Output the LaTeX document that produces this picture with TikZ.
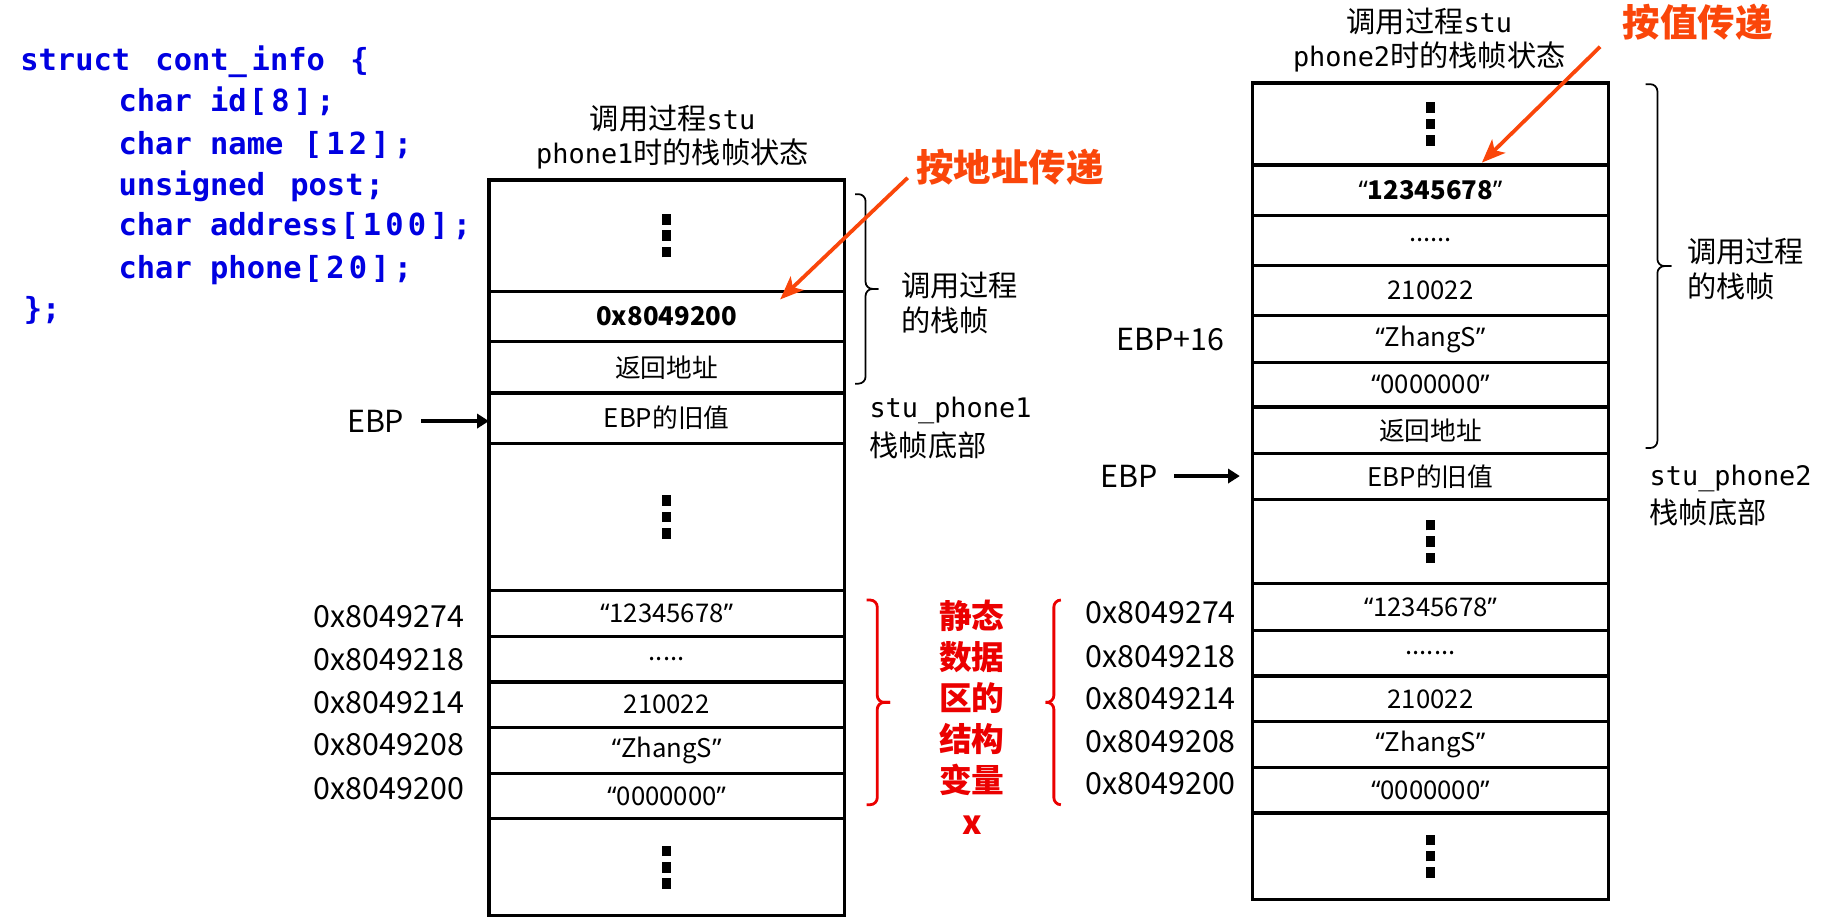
\documentclass[tikz,border=0pt]{standalone}
\usepackage{fontspec}
\setmainfont{Noto Sans CJK SC}
\newfontfamily\codefont{DejaVu Sans Mono}
\newfontfamily\quotefont{Noto Sans}
\usetikzlibrary{arrows.meta}

\definecolor{codeblue}{RGB}{0,0,225}
\definecolor{passorange}{RGB}{250,70,10}
\definecolor{zonered}{RGB}{235,0,0}

% curly quotes taken from a Latin font so they stay narrow
\newcommand\qt[1]{{\quotefont “}#1{\quotefont ”}}
% monospaced identifiers inside the notes
\newcommand\mono[1]{{\codefont\fontsize{11.5}{13}\selectfont #1}}
% slightly wider pitch for punctuation and digits in the declaration
\newcommand\wg[1]{\kern0.9pt#1\kern0.9pt}
% three stacked squares for an elided stretch of the stack
\newcommand\stackdots{\vbox{\offinterlineskip
  \hbox{\rule{4pt}{4.5pt}}\kern2.5pt\hbox{\rule{4pt}{4.5pt}}\kern2.5pt\hbox{\rule{4pt}{4.5pt}}}}
% one stack cell: name, left x, top y, bottom y, content
\newcommand\memcell[5]{\node[cellbox, minimum height={(#4-#3)*0.5pt}] (#1) at (#2,#3) {#5};}
% square-ish brace: options, x of ends, x of spine, x of tick, top y, bottom y
\newcommand\sidebrace[6][]{%
  \draw[#1] (#2,#5) -- (#3,#5) -- (#3,{(#5+#6)/2}) -- (#4,{(#5+#6)/2});
  \draw[#1] (#2,#6) -- (#3,#6) -- (#3,{(#5+#6)/2}) -- (#4,{(#5+#6)/2});}

\tikzset{
  cellbox/.style={draw, line width=1.4pt, minimum width=152pt, inner sep=0pt, outer sep=0pt,
    anchor=north west, font=\fontsize{11}{13}\selectfont},
  addr/.style={anchor=east, inner sep=0pt, font=\fontsize{13}{15}\selectfont},
  code/.style={anchor=base west, inner sep=0pt, text=codeblue,
    font=\codefont\bfseries\fontsize{13}{15}\selectfont},
  note/.style={anchor=west, inner sep=0pt, font=\fontsize{12.5}{15}\selectfont},
  head/.style={inner sep=0pt, font=\fontsize{12.5}{15}\selectfont},
  bracket/.style={line width=0.75pt, rounded corners=3pt},
  redbracket/.style={draw=zonered, line width=1.2pt, rounded corners=3pt},
  passarrow/.style={draw=passorange, line width=1.6pt, -{Stealth[length=10pt,width=8pt,inset=2.5pt]}},
  ebparrow/.style={line width=1.4pt, -{Triangle[length=5pt,width=6pt]}},
  passlabel/.style={anchor=west, inner sep=0pt, text=passorange, font=\bfseries\fontsize{16}{18}\selectfont},
}

\begin{document}
\begin{tikzpicture}[x=0.5pt, y=-0.5pt]
\useasboundingbox (0,0) rectangle (1568,786);

% ---- structure declaration ----
\node[code] (c1) at (17,60.4)  {struct\kern3pt~cont\_\kern2pt info\kern3pt~\{};
\node[code] (c2) at (101,95.5) {char id\wg{[}\wg{8}\wg{]}\wg{;}};
\node[code] (c3) at (101,131.7) {char name \wg{[}\wg{1}\wg{2}\wg{]}\wg{;}};
\node[code] (c4) at (101,166.8) {unsigned\kern3pt~post\wg{;}};
\node[code] (c5) at (101,201.5) {char address\wg{[}\wg{1}\wg{0}\wg{0}\wg{]}\wg{;}};
\node[code] (c6) at (101,237.8) {char phone\wg{[}\wg{2}\wg{0}\wg{]}\wg{;}};
\node[code] (c7) at (20,273) {\};};

% ---- stack while stu_phone1 runs ----
\node[head] (hl1) at (575,101) {调用过程\mono{stu}};
\node[head] (hl2) at (575,132) {\mono{phone1}时的栈帧状态};

\memcell{l1}{418}{154}{249}{\stackdots}
\memcell{l2}{418}{249}{292}{\bfseries 0x8049200}
\memcell{l3}{418}{292}{336}{返回地址}
\memcell{l4}{418}{336}{379}{EBP的旧值}
\memcell{l5}{418}{379}{505}{\stackdots}
\memcell{l6}{418}{505}{544}{\qt{12345678}}
\memcell{l7}{418}{544}{583}{.....}
\memcell{l8}{418}{583}{622}{210022}
\memcell{l9}{418}{622}{661}{\qt{ZhangS}}
\memcell{l10}{418}{661}{700}{\qt{0000000}}
\memcell{l11}{418}{700}{783}{\stackdots}

\node[addr] (al1) at (397,527) {0x8049274};
\node[addr] (al2) at (397,564) {0x8049218};
\node[addr] (al3) at (397,601) {0x8049214};
\node[addr] (al4) at (397,637) {0x8049208};
\node[addr] (al5) at (397,674) {0x8049200};

\node[addr] (ebpL) at (346,360) {EBP};
\draw[ebparrow, shorten <=7pt] (ebpL.east) -- (ebpL.east -| l4.west);

\sidebrace[bracket]{731}{740}{751}{166}{328}
\node[note] (fl1) at (770,244) {调用过程};
\node[note] (fl2) at (770,274) {的栈帧};
\node[note] (bl1) at (743,351) {\mono{stu\_phone1}};
\node[note] (bl2) at (743,381) {栈帧底部};

\node[passlabel] (passL) at (783,143) {按地址传递};
\coordinate (passLfrom) at (776,152);
\coordinate (passLto) at (667,256);
\draw[passarrow] (passLfrom) -- (passLto);

% ---- static data area ----
\sidebrace[redbracket]{741}{750}{761}{513}{688}
\sidebrace[redbracket]{907}{901}{894}{513}{688}
\node[align=center, text=zonered, inner sep=0pt,
      font=\bfseries\fontsize{14}{17.6}\selectfont] (zone) at (831,613)
      {静态\\数据\\区的\\结构\\变量\\x};

% ---- stack while stu_phone2 runs ----
\node[head] (hr1) at (1222,18) {调用过程\mono{stu}};
\node[head] (hr2) at (1222,49) {\mono{phone2}时的栈帧状态};

\memcell{r1}{1071}{71}{141}{\stackdots}
\memcell{r2}{1071}{141}{184}{\bfseries\qt{12345678}}
\memcell{r3}{1071}{184}{227}{......}
\memcell{r4}{1071}{227}{270}{210022}
\memcell{r5}{1071}{270}{310}{\qt{ZhangS}}
\memcell{r6}{1071}{310}{348}{\qt{0000000}}
\memcell{r7}{1071}{348}{388}{返回地址}
\memcell{r8}{1071}{388}{427}{EBP的旧值}
\memcell{r9}{1071}{427}{499}{\stackdots}
\memcell{r10}{1071}{499}{539}{\qt{12345678}}
\memcell{r11}{1071}{539}{578}{.......}
\memcell{r12}{1071}{578}{617}{210022}
\memcell{r13}{1071}{617}{656}{\qt{ZhangS}}
\memcell{r14}{1071}{656}{695}{\qt{0000000}}
\memcell{r15}{1071}{695}{769}{\stackdots}

\node[addr] (ar1) at (1057,524) {0x8049274};
\node[addr] (ar2) at (1057,561) {0x8049218};
\node[addr] (ar3) at (1057,597) {0x8049214};
\node[addr] (ar4) at (1057,634) {0x8049208};
\node[addr] (ar5) at (1057,670) {0x8049200};

\node[addr] (ebp16) at (1047,290) {EBP+16};
\node[addr] (ebpR) at (990,407) {EBP};
\draw[ebparrow, shorten <=7pt, shorten >=5.5pt] (ebpR.east) -- (ebpR.east -| r8.west);

\sidebrace[bracket]{1407}{1417}{1429}{72}{383}
\node[note] (fr1) at (1442,215) {调用过程};
\node[note] (fr2) at (1442,245) {的栈帧};
\node[note] (br1) at (1410,409) {\mono{stu\_phone2}};
\node[note] (br2) at (1410,438) {栈帧底部};

\node[passlabel] (passR) at (1387,19) {按值传递};
\coordinate (passRfrom) at (1368,40);
\coordinate (passRto) at (1267,139);
\draw[passarrow] (passRfrom) -- (passRto);
\end{tikzpicture}
\end{document}
